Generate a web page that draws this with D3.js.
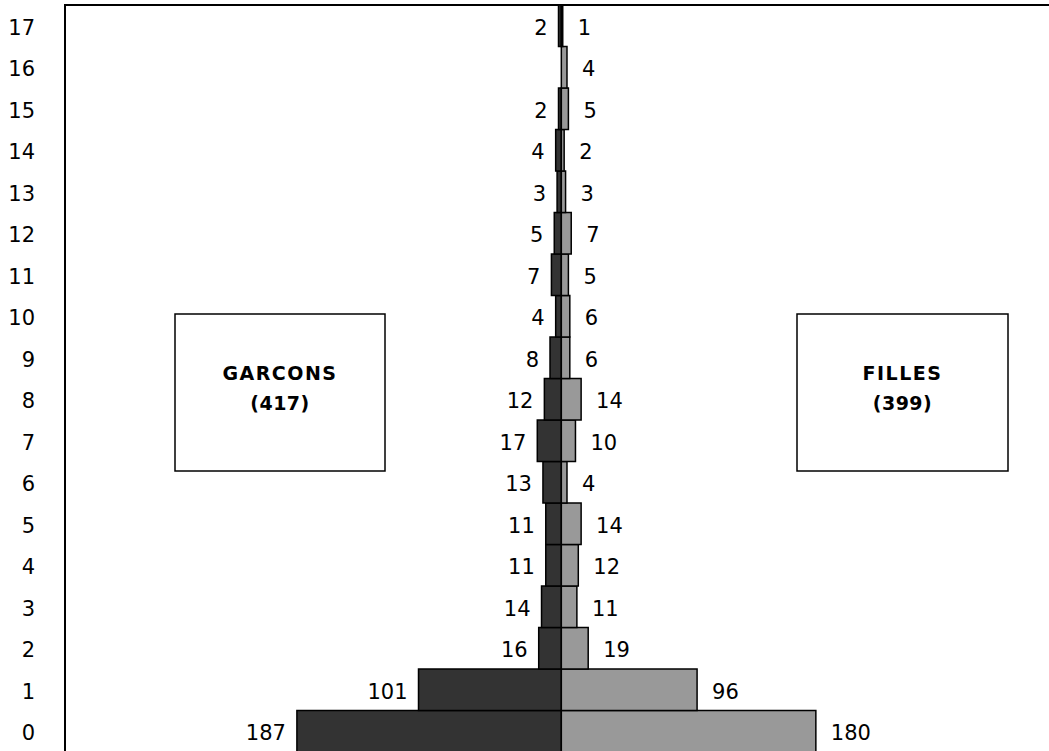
<!DOCTYPE html>
<html><head><meta charset="utf-8">
<script src="https://cdn.jsdelivr.net/npm/d3@7"></script>
<style>
html,body{margin:0;padding:0;background:#fff;}
svg text{font-family:"Comic Sans MS","DejaVu Sans",sans-serif;}
</style></head>
<body><svg id="c" width="1049" height="751"></svg>
<script>
const ages = ["0","1","2","3","4","5","6","7","8","9","10","11","12","13","14","15","16","17"];
const garcons = [187,101,16,14,11,11,13,17,12,8,4,7,5,3,4,2,0,2];
const filles  = [180,96,19,11,12,14,4,10,14,6,6,5,7,3,2,5,4,1];
const groupNames = ["GARCONS","FILLES"];
const groupTotals = [417,399];

(function(){
const svg = d3.select("#c");
const mL = 65, mT = 5, mR = 1052, mB = 752;

const x = d3.scaleLinear().domain([-351, 347]).range([mL, mR]);
const y = d3.scaleBand().domain(ages.slice().reverse()).range([mT, mB]).padding(0);

// plot frame
svg.append("rect").attr("x", mL).attr("y", mT).attr("width", mR - mL).attr("height", mB - mT)
  .attr("fill", "#fff").attr("stroke", "#000").attr("stroke-width", 2);

// bars
const g = svg.append("g");
g.selectAll("rect.m").data(ages).join("rect").attr("class","m")
  .attr("x", (d,i) => x(-garcons[i])).attr("y", d => y(d))
  .attr("width", (d,i) => x(0) - x(-garcons[i])).attr("height", y.bandwidth())
  .attr("fill", "#333333").attr("stroke", "#000").attr("stroke-width", 1.5);
g.selectAll("rect.f").data(ages).join("rect").attr("class","f")
  .attr("x", x(0)).attr("y", d => y(d))
  .attr("width", (d,i) => x(filles[i]) - x(0)).attr("height", y.bandwidth())
  .attr("fill", "#999999").attr("stroke", "#000").attr("stroke-width", 1.5);

// value labels
g.selectAll("text.ml").data(ages.filter((d,i) => garcons[i] > 0)).join("text").attr("class","ml")
  .attr("x", d => x(-garcons[+d]) - 11).attr("y", d => y(d) + y.bandwidth()/2 + 3)
  .attr("text-anchor","end").attr("dominant-baseline","middle")
  .attr("font-size", 21).text(d => garcons[+d]);
g.selectAll("text.fl").data(ages).join("text").attr("class","fl")
  .attr("x", (d,i) => x(filles[i]) + 15).attr("y", d => y(d) + y.bandwidth()/2 + 3)
  .attr("text-anchor","start").attr("dominant-baseline","middle")
  .attr("font-size", 21).text((d,i) => filles[i]);

// category axis labels
svg.selectAll("text.cat").data(ages).join("text").attr("class","cat")
  .attr("x", 35).attr("y", d => y(d) + y.bandwidth()/2 + 3)
  .attr("text-anchor","end").attr("dominant-baseline","middle")
  .attr("font-size", 21).text(d => d);

// legend boxes
const boxes = [{x0:175, x1:385}, {x0:797, x1:1008}];
boxes.forEach((b, i) => {
  svg.append("rect").attr("x", b.x0).attr("y", 314).attr("width", b.x1 - b.x0).attr("height", 157)
    .attr("fill", "#fff").attr("stroke", "#000").attr("stroke-width", 1.5);
  const cx = (b.x0 + b.x1) / 2;
  svg.append("text").attr("x", cx).attr("y", 374).attr("text-anchor","middle").attr("dominant-baseline","middle")
    .attr("font-size", 19).attr("font-weight","bold").attr("letter-spacing", 1.5).text(groupNames[i]);
  svg.append("text").attr("x", cx).attr("y", 404).attr("text-anchor","middle").attr("dominant-baseline","middle")
    .attr("font-size", 19).attr("font-weight","bold").attr("letter-spacing", 0.5).text("(" + groupTotals[i] + ")");
});
})();
</script></body></html>
